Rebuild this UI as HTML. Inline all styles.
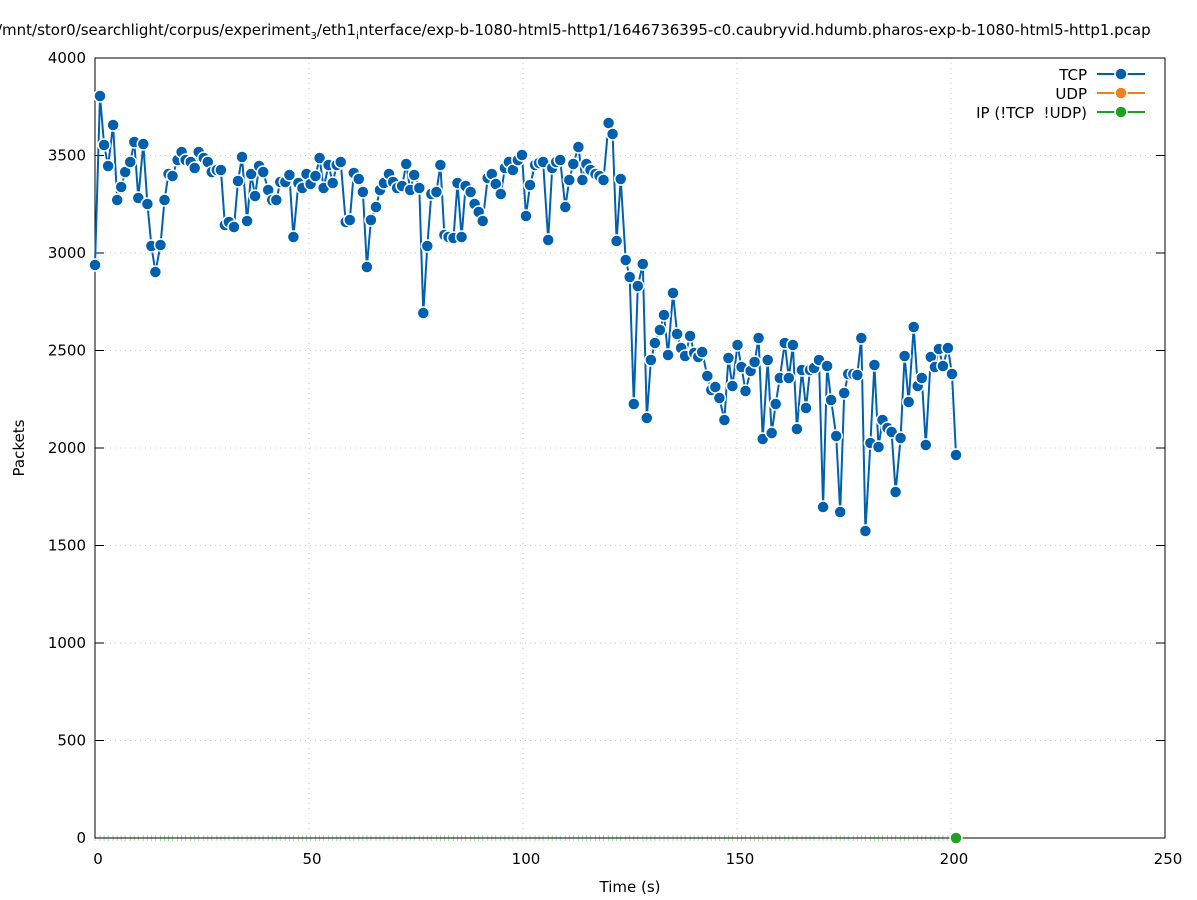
<!DOCTYPE html>
<html><head><meta charset="utf-8"><style>
body{margin:0;background:#fff;}
svg{display:block;font-family:"DejaVu Sans","Liberation Sans",sans-serif;}
</style></head><body>
<svg id="s" width="1197" height="900" viewBox="0 0 1197 900" xmlns="http://www.w3.org/2000/svg">
<rect width="1197" height="900" fill="#fff"/>
<g id="grid" stroke="#c8c8c8" stroke-width="1" stroke-dasharray="1,4"></g>
<g id="gt" stroke="#a8dca8" stroke-width="1"></g>
<rect x="95" y="58" width="1070" height="780" fill="none" stroke="#000" stroke-width="1"/>
<g id="ticks" stroke="#000" stroke-width="1"></g>
<g id="labels" font-size="15" fill="#000"></g>
<text x="-3" y="35" font-size="15">/mnt/stor0/searchlight/corpus/experiment<tspan font-size="10" dy="4">3</tspan><tspan dy="-4">/eth1</tspan><tspan font-size="10" dy="4">i</tspan><tspan dy="-4">nterface/exp-b-1080-html5-http1/1646736395-c0.caubryvid.hdumb.pharos-exp-b-1080-html5-http1.pcap</tspan></text>
<text x="630" y="892" font-size="15" text-anchor="middle">Time (s)</text>
<text transform="translate(24,448) rotate(-90)" font-size="15" text-anchor="middle">Packets</text>
<polyline id="tcp" fill="none" stroke="#0060ad" stroke-width="2"/>
<g id="pts" fill="#0060ad" stroke="#fff" stroke-width="1.5"></g>
<circle cx="956" cy="838" r="6" fill="#20a020" stroke="#fff" stroke-width="1.5"/>
<g font-size="15" text-anchor="end">
<text x="1087" y="80">TCP</text>
<text x="1087" y="99">UDP</text>
<text x="1087" y="118">IP (!TCP&#160; !UDP)</text>
</g>
<line x1="1097" y1="74" x2="1145" y2="74" stroke="#0060ad" stroke-width="2"/>
<circle cx="1121" cy="74" r="6" fill="#0060ad" stroke="#fff" stroke-width="1.5"/>
<line x1="1097" y1="93" x2="1145" y2="93" stroke="#f07f1e" stroke-width="2"/>
<circle cx="1121" cy="93" r="6" fill="#f07f1e" stroke="#fff" stroke-width="1.5"/>
<line x1="1097" y1="112" x2="1145" y2="112" stroke="#20a020" stroke-width="2"/>
<circle cx="1121" cy="112" r="6" fill="#20a020" stroke="#fff" stroke-width="1.5"/>
</svg>
<script>
var NS="http://www.w3.org/2000/svg";
function el(p,t,a,txt){var e=document.createElementNS(NS,t);for(var k in a)e.setAttribute(k,a[k]);if(txt!=null)e.textContent=txt;document.getElementById(p).appendChild(e);}
for(var i=0;i<=8;i++){var y=838-i*97.5;
 if(i>0&&i<8)el("grid","line",{x1:95,y1:y,x2:1165,y2:y});
 el("ticks","line",{x1:95,y1:y,x2:104,y2:y});el("ticks","line",{x1:1165,y1:y,x2:1156,y2:y});
 el("labels","text",{x:86,y:y+5,"text-anchor":"end"},String(i*500));}
for(var i=0;i<=5;i++){var x=95+i*214;
 if(i>0&&i<5)el("grid","line",{x1:x,y1:58,x2:x,y2:838});
 el("labels","text",{x:x+3,y:864,"text-anchor":"middle"},String(i*50));}
var P=[[95,265],[100,96],[104,145],[108,166],[113,125],[117,200],[121,187],[125,172],[130,162],[134,142],[138,198],[143,144],[147,204],[151,246],[155,272],[160,245],[164,200],[168,174],[172,176],[177,160],[181,152],[185,160],[190,162],[194,168],[198,152],[203,158],[207,162],[211,172],[216,170],[220,170],[224,225],[228,222],[233,227],[237,181],[241,157],[246,221],[250,174],[254,196],[258,166],[262,172],[267,190],[271,200],[275,200],[279,182],[284,182],[288,175],[292,237],[297,183],[301,188],[305,174],[309,184],[314,176],[318,158],[322,188],[327,165],[331,183],[335,165],[339,162],[344,222],[348,220],[352,173],[357,179],[361,192],[365,267],[369,220],[374,207],[378,190],[382,183],[387,174],[391,182],[395,188],[400,186],[404,164],[408,190],[412,175],[417,188],[421,313],[425,246],[429,194],[434,192],[438,165],[442,235],[446,237],[451,238],[455,183],[459,237],[463,186],[468,192],[472,204],[476,212],[480,221],[485,178],[489,174],[493,184],[498,194],[502,168],[506,162],[510,170],[515,160],[519,155],[523,216],[527,185],[532,165],[536,163],[540,162],[545,240],[549,168],[553,162],[557,160],[562,207],[566,180],[570,164],[575,147],[579,180],[583,164],[587,170],[592,174],[596,176],[600,180],[605,123],[609,134],[613,241],[617,179],[622,260],[626,277],[630,404],[634,286],[639,264],[643,418],[647,360],[651,343],[656,330],[660,315],[664,355],[669,293],[673,334],[677,348],[681,356],[686,336],[690,353],[694,357],[698,352],[703,376],[707,390],[711,387],[715,398],[720,420],[724,358],[728,386],[733,345],[737,367],[741,391],[746,371],[750,362],[754,338],[758,439],[763,360],[767,433],[771,404],[775,378],[780,343],[784,378],[788,345],[792,429],[797,370],[801,408],[805,370],[809,368],[814,360],[818,507],[822,366],[826,400],[831,436],[835,512],[839,393],[843,374],[848,374],[852,375],[856,338],[860,531],[865,443],[869,365],[873,447],[877,420],[882,428],[886,432],[890,492],[895,438],[899,356],[903,402],[908,327],[912,386],[916,378],[920,445],[925,357],[929,367],[933,349],[937,366],[942,348],[946,374],[950,455]];
P=P.map(function(p){return [(95+(p[0]-95)*861/855).toFixed(1),p[1]];});
document.getElementById("tcp").setAttribute("points",P.map(function(p){return p.join(",")}).join(" "));
P.forEach(function(p){el("gt","line",{x1:p[0],y1:835,x2:p[0],y2:841});});
P.forEach(function(p){el("pts","circle",{cx:p[0],cy:p[1],r:6});});
</script>
</body></html>
